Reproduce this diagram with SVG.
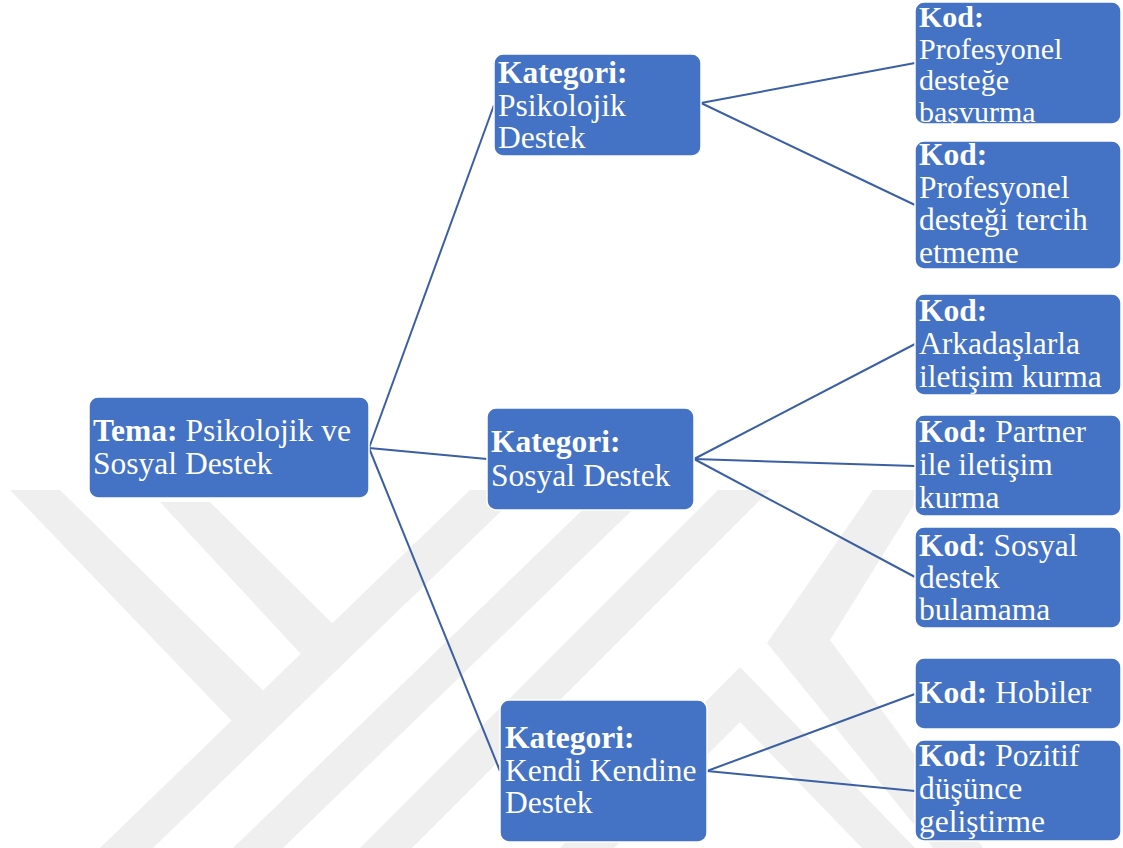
<svg xmlns="http://www.w3.org/2000/svg" width="1123" height="848" viewBox="0 0 1123 848">
<style>
.box{fill:#4472c4;stroke:#ffffff;stroke-width:1.5}
.t{font-family:"Liberation Serif","Times New Roman",serif;font-size:31.5px;fill:#ffffff}
.s{font-size:30px}
.b{font-weight:bold}
.c{stroke:#3b5fa3;stroke-width:2;fill:none}
.wm{fill:#efefef}
</style>
<defs>
<clipPath id="wmclip"><rect x="0" y="488" width="1123" height="360"/></clipPath>
</defs>
<rect width="1123" height="848" fill="#ffffff"/>
<g id="watermark" clip-path="url(#wmclip)">
<polygon class="wm" points="10,490 60,490 285,712 252,742"/>
<polygon class="wm" points="160,502 210,502 345,636 312,666"/>
<polygon class="wm" points="100,848 153,848 523,490 470,490"/>
<polygon class="wm" points="233,848 283,848 653,490 603,490"/>
<polygon class="wm" points="360,848 412,848 770,490 718,490"/>
<polygon class="wm" points="873,490 923,490 830,640 983,848 933,848 767,643"/>
<polygon class="wm" points="740,667 915,848 862,848 740,722 614,848 560,848"/>
</g>
<g id="connectors">
<line class="c" x1="369" y1="448" x2="494" y2="105"/>
<line class="c" x1="369" y1="448" x2="487" y2="459"/>
<line class="c" x1="369" y1="448" x2="500" y2="771"/>
<line class="c" x1="701" y1="103" x2="915" y2="63"/>
<line class="c" x1="701" y1="103" x2="915" y2="205"/>
<line class="c" x1="694" y1="459" x2="915" y2="344"/>
<line class="c" x1="694" y1="459" x2="915" y2="466"/>
<line class="c" x1="694" y1="459" x2="915" y2="577"/>
<line class="c" x1="707" y1="771" x2="915" y2="694"/>
<line class="c" x1="707" y1="771" x2="915" y2="791"/>
</g>
<g id="tema">
<rect class="box" x="89" y="397" width="280" height="101" rx="9"/>
<text class="t" x="93" y="441"><tspan class="b">Tema:</tspan> Psikolojik ve</text>
<text class="t" x="93" y="474">Sosyal Destek</text>
</g>
<g id="kat-psikolojik">
<rect class="box" x="494" y="54" width="207" height="102" rx="9"/>
<text class="t b" x="498" y="83">Kategori:</text>
<text class="t" x="498" y="116">Psikolojik</text>
<text class="t" x="498" y="148">Destek</text>
</g>
<g id="kat-sosyal">
<rect class="box" x="487" y="408" width="207" height="102" rx="9"/>
<text class="t b" x="491" y="452">Kategori:</text>
<text class="t" x="491" y="486">Sosyal Destek</text>
</g>
<g id="kat-kendi">
<rect class="box" x="500" y="700" width="207" height="142" rx="9"/>
<text class="t b" x="505" y="748">Kategori:</text>
<text class="t" x="505" y="781">Kendi Kendine</text>
<text class="t" x="505" y="813">Destek</text>
</g>
<g id="kod1">
<rect class="box" x="915" y="2" width="206" height="122" rx="9"/>
<text class="t s b" x="919" y="27">Kod:</text>
<text class="t s" x="919" y="58.5">Profesyonel</text>
<text class="t s" x="919" y="90">desteğe</text>
<text class="t s" x="919" y="121.5">başvurma</text>
</g>
<g id="kod2">
<rect class="box" x="915" y="141" width="206" height="128" rx="9"/>
<text class="t b" x="919" y="165">Kod:</text>
<text class="t" x="919" y="198">Profesyonel</text>
<text class="t" x="919" y="230">desteği tercih</text>
<text class="t" x="919" y="263">etmeme</text>
</g>
<g id="kod3">
<rect class="box" x="915" y="294" width="206" height="101" rx="9"/>
<text class="t b" x="919" y="321">Kod:</text>
<text class="t" x="919" y="354">Arkadaşlarla</text>
<text class="t" x="919" y="387">iletişim kurma</text>
</g>
<g id="kod4">
<rect class="box" x="915" y="415" width="206" height="101" rx="9"/>
<text class="t" x="919" y="442"><tspan class="b">Kod:</tspan> Partner</text>
<text class="t" x="919" y="475">ile iletişim</text>
<text class="t" x="919" y="508">kurma</text>
</g>
<g id="kod5">
<rect class="box" x="915" y="527" width="206" height="101" rx="9"/>
<text class="t" x="919" y="556"><tspan class="b">Kod</tspan>: Sosyal</text>
<text class="t" x="919" y="588">destek</text>
<text class="t" x="919" y="620">bulamama</text>
</g>
<g id="kod6">
<rect class="box" x="915" y="658" width="206" height="71" rx="9"/>
<text class="t" x="919" y="703"><tspan class="b">Kod:</tspan> Hobiler</text>
</g>
<g id="kod7">
<rect class="box" x="915" y="740" width="206" height="101" rx="9"/>
<text class="t" x="919" y="766"><tspan class="b">Kod:</tspan> Pozitif</text>
<text class="t" x="919" y="799">düşünce</text>
<text class="t" x="919" y="832">geliştirme</text>
</g>
</svg>
